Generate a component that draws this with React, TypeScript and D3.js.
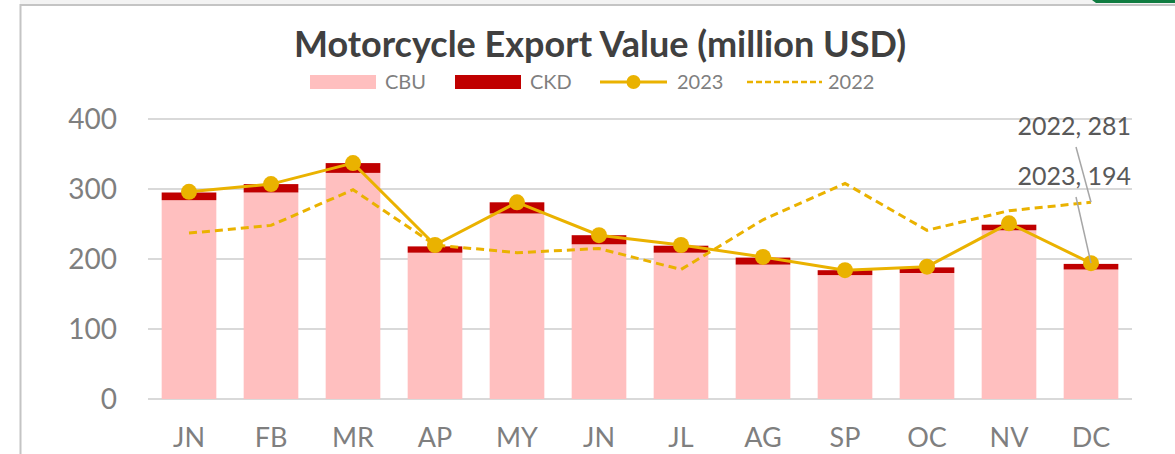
import React from "react";
import * as d3 from "d3";

const months = ["JN", "FB", "MR", "AP", "MY", "JN ", "JL", "AG", "SP", "OC", "NV", "DC"];
const monthLabels = ["JN", "FB", "MR", "AP", "MY", "JN", "JL", "AG", "SP", "OC", "NV", "DC"];
const cbu = [284, 295, 323, 209, 265, 221, 209, 192, 177, 180, 241, 185];
const ckd = [11, 12, 14, 9, 16, 13, 10, 10, 7, 8, 8, 8];
const y2023 = [296, 307, 337, 220, 281, 234, 220, 203, 184, 189, 251, 194];
const y2022 = [237, 248, 299, 220, 209, 215, 185, 256, 308, 241, 269, 281];
const yTicks = [0, 100, 200, 300, 400];

const W = 1175;
const H = 454;
const FONT = "Lato, 'Open Sans', sans-serif";
const GOLD = "#EAB200";
const PINK = "#FFBFBF";
const RED = "#C00000";
const GRAY = "#7F7F7F";

export default function App() {
  const x = d3.scaleBand<string>().domain(months).range([148, 1132]).paddingInner(1 / 3).paddingOuter(1 / 6);
  const y = d3.scaleLinear().domain([0, 400]).range([399, 119]);
  const cx = (i: number) => (x(months[i]) as number) + x.bandwidth() / 2;

  const line = d3.line<number>().x((_, i) => cx(i)).y((d) => y(d));

  const last = months.length - 1;
  const lx = cx(last);

  return (
    <svg width={W} height={H} style={{ position: "absolute", left: 0, top: 0, display: "block" }} fontFamily={FONT}>
      <rect x={0} y={0} width={W} height={H} fill="#fff" />
      {/* frame */}
      <rect x={20} y={0} width={W - 20} height={4} fill="#F3F3F3" />
      <path d="M1092,0 L1175,0 L1175,3 L1096,3 Z" fill="#107C41" />
      <line x1={20} y1={5} x2={W} y2={5} stroke="#C4C4C4" strokeWidth={2} />
      <line x1={20.5} y1={4} x2={20.5} y2={H} stroke="#C4C4C4" strokeWidth={2} />

      {/* title */}
      <text x={600} y={57} textAnchor="middle" fontSize={36} fontWeight={700} fill="#404040">
        Motorcycle Export Value (million USD)
      </text>

      {/* legend */}
      <g fontSize={20} fill={GRAY}>
        <rect x={310} y={75} width={66} height={14} fill={PINK} />
        <text x={385} y={89}>CBU</text>
        <rect x={455} y={75} width={66} height={14} fill={RED} />
        <text x={530} y={89}>CKD</text>
        <line x1={600} y1={82} x2={667} y2={82} stroke={GOLD} strokeWidth={3} />
        <circle cx={633.5} cy={82} r={7} fill={GOLD} />
        <text x={677} y={89}>2023</text>
        <line x1={747} y1={82} x2={822} y2={82} stroke={GOLD} strokeWidth={2.5} strokeDasharray="6,3" />
        <text x={828} y={89}>2022</text>
      </g>

      {/* gridlines */}
      {yTicks.map((t) => (
        <line key={t} x1={148} x2={1132} y1={y(t)} y2={y(t)} stroke="#D9D9D9" strokeWidth={2} />
      ))}
      {yTicks.map((t) => (
        <text key={"l" + t} x={117} y={y(t) + 10} textAnchor="end" fontSize={28} fill={GRAY}>
          {t}
        </text>
      ))}

      {/* bars */}
      {months.map((m, i) => (
        <g key={m}>
          <rect x={x(m)} y={y(cbu[i])} width={x.bandwidth()} height={y(0) - y(cbu[i])} fill={PINK} />
          <rect
            x={x(m)}
            y={y(cbu[i] + ckd[i])}
            width={x.bandwidth()}
            height={y(cbu[i]) - y(cbu[i] + ckd[i])}
            fill={RED}
          />
        </g>
      ))}

      {/* x labels */}
      {months.map((m, i) => (
        <text key={"x" + m} x={cx(i)} y={447} textAnchor="middle" fontSize={27} fill={GRAY}>
          {monthLabels[i]}
        </text>
      ))}

      {/* 2022 dashed */}
      <path d={line(y2022) || ""} fill="none" stroke={GOLD} strokeWidth={3} strokeDasharray="8,5" />

      {/* 2023 line */}
      <path d={line(y2023) || ""} fill="none" stroke={GOLD} strokeWidth={3} />
      {y2023.map((v, i) => (
        <circle key={"c" + i} cx={cx(i)} cy={y(v)} r={8} fill={GOLD} />
      ))}

      {/* annotations */}
      <line x1={lx - 15} y1={147} x2={lx} y2={y(y2022[last])} stroke="#A6A6A6" strokeWidth={1.5} />
      <line x1={lx - 15} y1={197} x2={lx} y2={y(y2023[last])} stroke="#A6A6A6" strokeWidth={1.5} />
      <text x={1131} y={135} textAnchor="end" fontSize={25} fill="#595959">
        2022, {y2022[last]}
      </text>
      <text x={1131} y={185} textAnchor="end" fontSize={25} fill="#595959">
        2023, {y2023[last]}
      </text>
    </svg>
  );
}
